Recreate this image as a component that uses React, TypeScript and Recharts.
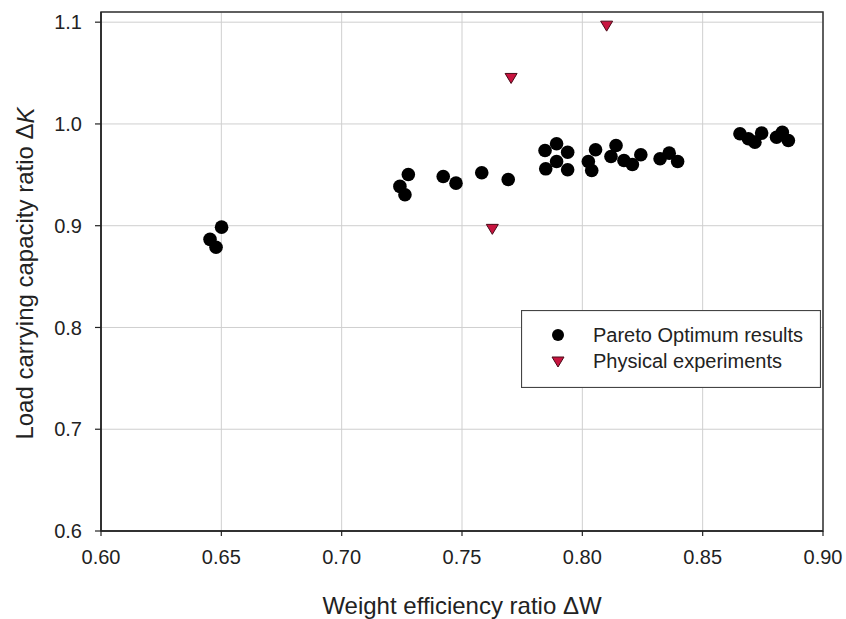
import React from 'react';
import { ScatterChart, Scatter, XAxis, YAxis, CartesianGrid, Legend, ReferenceArea, Label } from 'recharts';

const FONT = '"Liberation Sans", Arial, Helvetica, sans-serif';
const TEXT = '#222222';

const paretoW = [
  0.6453, 0.6478, 0.6501,
  0.7242, 0.7263, 0.7277,
  0.7422, 0.7475, 0.7582, 0.7692,
  0.7845, 0.7893, 0.7939, 0.7848, 0.7893, 0.7939,
  0.8025, 0.8039, 0.8055, 0.8119, 0.8140, 0.8173, 0.8208, 0.8243, 0.8323, 0.8361, 0.8396,
  0.8655, 0.8690, 0.8717, 0.8745, 0.8807, 0.8831, 0.8856,
];
const paretoK = [
  0.8866, 0.8788, 0.8986,
  0.9386, 0.9304, 0.9503,
  0.9484, 0.9418, 0.9520, 0.9454,
  0.9739, 0.9805, 0.9722, 0.9559, 0.9631, 0.9550,
  0.9631, 0.9543, 0.9746, 0.9680, 0.9788, 0.9641, 0.9601, 0.9697, 0.9658, 0.9713, 0.9631,
  0.9903, 0.9854, 0.9821, 0.9910, 0.9869, 0.9919, 0.9837,
];
const experimentW = [0.7626, 0.7704, 0.8101];
const experimentK = [0.8964, 1.0447, 1.0961];

const xTicks = [0.6, 0.65, 0.7, 0.75, 0.8, 0.85, 0.9];
const yTicks = [0.6, 0.7, 0.8, 0.9, 1.0, 1.1];
const xDomain = [0.6, 0.9];
const yDomain = [0.6, 1.11];

const seriesNames = ['Pareto Optimum results', 'Physical experiments'];
const xLabelText = 'Weight efficiency ratio \u0394W';
const yLabelText = 'Load carrying capacity ratio \u0394';
const yLabelVar = 'K';

const paretoData = paretoW.map((w, i) => ({ w, k: paretoK[i] }));
const experimentData = experimentW.map((w, i) => ({ w, k: experimentK[i] }));

const TRI_FILL = '#C8143F';
const TRI_STROKE = '#4a0a18';

const DownTriangle = (props: any) => {
  const { cx, cy } = props;
  if (cx == null || cy == null) return null;
  const hw = 6;
  const hh = 5;
  return (
    <path
      d={`M${cx - hw},${cy - hh} L${cx + hw},${cy - hh} L${cx},${cy + hh} Z`}
      fill={TRI_FILL}
      stroke={TRI_STROKE}
      strokeWidth={1}
    />
  );
};

const Dot = (props: any) => {
  const { cx, cy } = props;
  if (cx == null || cy == null) return null;
  return <circle cx={cx} cy={cy} r={6.8} fill="#000" />;
};

const XLabel = (props: any) => {
  const vb = props.viewBox || {};
  const cx = vb.x + vb.width / 2;
  const cy = vb.y + 74;
  return (
    <text x={cx} y={cy} textAnchor="middle" dominantBaseline="central" fontFamily={FONT} fontSize={24} fill={TEXT}>
      {xLabelText}
    </text>
  );
};

const YLabel = (props: any) => {
  const vb = props.viewBox || {};
  const cx = vb.x + 24.5;
  const cy = vb.y + vb.height / 2 + 2;
  return (
    <text
      x={cx}
      y={cy}
      transform={`rotate(-90 ${cx} ${cy})`}
      textAnchor="middle"
      dominantBaseline="central"
      fontFamily={FONT}
      fontSize={24}
      fill={TEXT}
    >
      {yLabelText}
      <tspan fontStyle="italic">{yLabelVar}</tspan>
    </text>
  );
};

const LegendBox = () => (
  <svg width={300} height={78} style={{ display: 'block' }}>
    <rect x={0.5} y={0.5} width={299} height={77} fill="#fff" stroke="#444" strokeWidth={1.2} />
    <circle cx={37} cy={25} r={6} fill="#000" />
    <text x={72} y={25} dominantBaseline="central" fontFamily={FONT} fontSize={20} fill={TEXT}>
      {seriesNames[0]}
    </text>
    <path d="M31,47 L43,47 L37,57 Z" fill={TRI_FILL} stroke={TRI_STROKE} strokeWidth={1} />
    <text x={72} y={51} dominantBaseline="central" fontFamily={FONT} fontSize={20} fill={TEXT}>
      {seriesNames[1]}
    </text>
  </svg>
);

export default function App() {
  return (
    <div style={{ position: 'absolute', left: 0, top: 0, background: '#fff' }}>
      <ScatterChart width={846} height={619} margin={{ top: 12, right: 23, bottom: 3, left: 0 }}>
        <CartesianGrid stroke="#cfcfcf" strokeWidth={1} />
        <XAxis
          type="number"
          dataKey="w"
          domain={xDomain}
          ticks={xTicks}
          allowDataOverflow
          height={85}
          tickFormatter={(v: number) => v.toFixed(2)}
          tick={{ fontFamily: FONT, fontSize: 20, fill: TEXT }}
          tickSize={5}
          tickMargin={14}
          axisLine={{ stroke: '#222', strokeWidth: 1.5 }}
          tickLine={{ stroke: '#222', strokeWidth: 1.2 }}
        >
          <Label content={<XLabel />} />
        </XAxis>
        <YAxis
          type="number"
          dataKey="k"
          domain={yDomain}
          ticks={yTicks}
          allowDataOverflow
          width={101}
          tickFormatter={(v: number) => v.toFixed(1)}
          tick={{ fontFamily: FONT, fontSize: 20, fill: TEXT }}
          tickSize={6}
          tickMargin={13}
          axisLine={{ stroke: '#222', strokeWidth: 1.5 }}
          tickLine={{ stroke: '#222', strokeWidth: 1.2 }}
        >
          <Label content={<YLabel />} />
        </YAxis>
        <ReferenceArea x1={0.6} x2={0.9} y1={0.6} y2={1.11} fill="none" stroke="#333" strokeWidth={1.5} />
        <Legend
          layout="horizontal"
          verticalAlign="middle"
          align="center"
          wrapperStyle={{ position: 'absolute', left: 521, top: 310, width: 300, height: 78 }}
          content={<LegendBox />}
        />
        <Scatter name={seriesNames[0]} data={paretoData} shape={<Dot />} isAnimationActive={false} />
        <Scatter name={seriesNames[1]} data={experimentData} shape={<DownTriangle />} isAnimationActive={false} />
      </ScatterChart>
    </div>
  );
}
